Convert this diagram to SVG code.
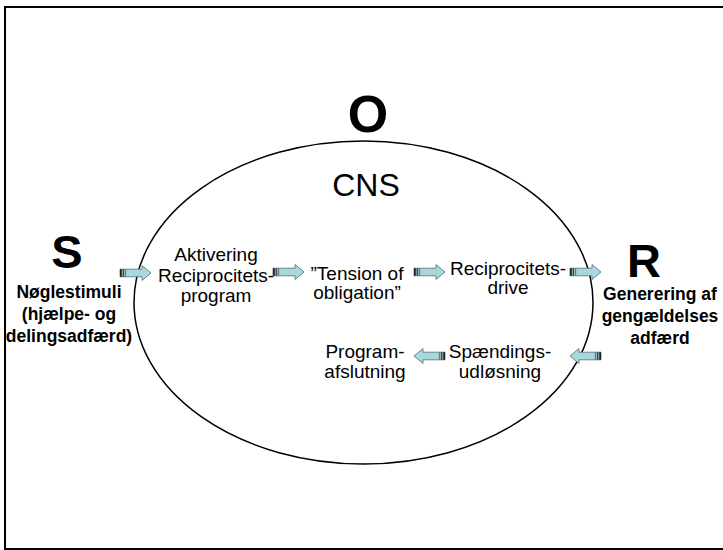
<svg xmlns="http://www.w3.org/2000/svg" width="723" height="550" viewBox="0 0 723 550">
<style>
text{font-family:"Liberation Sans",Arial,sans-serif;fill:#000;text-anchor:middle}
.big{font-weight:bold}
.side{font-size:17.5px;font-weight:bold}
.step{font-size:19px}
.arrow-body{fill:#a8d8dc;stroke:#4d6f74;stroke-width:0.8}
</style>
<defs>
<g id="arr">
<path class="arrow-body" d="M0,-3.8 L22,-3.8 L22,-7.5 L31,0 L22,7.5 L22,3.8 L0,3.8 Z"/>
<rect x="0" y="-3.8" width="1.8" height="7.6" fill="#222"/>
<rect x="2.6" y="-3.8" width="1.6" height="7.6" fill="#444"/>
<rect x="5" y="-3.8" width="1.2" height="7.6" fill="#777"/>
</g>
</defs>
<rect x="5" y="7" width="722" height="542" fill="none" stroke="#000" stroke-width="2"/>
<g id="cns">
<ellipse cx="363.5" cy="302.5" rx="229.5" ry="161.5" fill="none" stroke="#000" stroke-width="1.5"/>
<text x="366" y="196" style="font-size:32px">CNS</text>
</g>
<g id="O"><text class="big" x="368" y="132" style="font-size:52px">O</text></g>
<g id="S">
<text class="big" x="67" y="268" style="font-size:47px">S</text>
<text class="side" x="69" y="298">Nøglestimuli</text>
<text class="side" x="69" y="320">(hjælpe- og</text>
<text class="side" x="69" y="342">delingsadfærd)</text>
</g>
<g id="R">
<text class="big" x="644" y="277" style="font-size:47px">R</text>
<text class="side" x="660" y="300">Generering af</text>
<text class="side" x="660" y="322">gengældelses</text>
<text class="side" x="660" y="344">adfærd</text>
</g>
<g id="aktivering">
<text class="step" x="216" y="261">Aktivering</text>
<text class="step" x="216" y="282">Reciprocitets-</text>
<text class="step" x="216" y="302">program</text>
</g>
<g id="tension">
<text class="step" x="357" y="280">”Tension of</text>
<text class="step" x="357" y="299">obligation”</text>
</g>
<g id="drive">
<text class="step" x="508" y="275">Reciprocitets-</text>
<text class="step" x="508" y="294">drive</text>
</g>
<g id="spaending">
<text class="step" x="500" y="358">Spændings-</text>
<text class="step" x="500" y="378">udløsning</text>
</g>
<g id="afslutning">
<text class="step" x="365" y="358">Program-</text>
<text class="step" x="365" y="378">afslutning</text>
</g>
<g id="connectors">
<use href="#arr" transform="translate(120,273)"/>
<use href="#arr" transform="translate(273,272)"/>
<use href="#arr" transform="translate(414,272)"/>
<use href="#arr" transform="translate(570,272)"/>
<use href="#arr" transform="translate(601,356) scale(-1,1)"/>
<use href="#arr" transform="translate(445,356) scale(-1,1)"/>
</g>
</svg>
